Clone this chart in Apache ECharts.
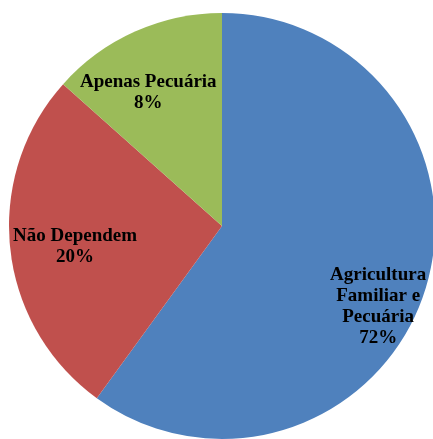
<!DOCTYPE html>
<html>
<head>
<meta charset="utf-8">
<script src="https://cdn.jsdelivr.net/npm/echarts@6/dist/echarts.min.js"></script>
<style>
  html, body { margin: 0; padding: 0; background: #fff; }
  #main { width: 433px; height: 439px; }
</style>
</head>
<body>
<div id="main"></div>
<script>
// slices as drawn in the picture (clockwise from 12 o'clock)
var categories = ["Agricultura\nFamiliar e\nPecuária", "Não Dependem", "Apenas Pecuária"];
var sliceValues = [60, 26.6, 13.4];
// percentages printed on the labels
var labelPercents = ["72%", "20%", "8%"];
var sliceColors = ["#4F81BD", "#C0504D", "#9BBB59"];
var labelOffsets = [[52, 47], [-38, 9], [-29, -33]];

var chartMain = echarts.init(document.getElementById("main"));

var pieData = categories.map(function (name, i) {
  return {
    name: name,
    value: sliceValues[i],
    itemStyle: { color: sliceColors[i] },
    label: { offset: labelOffsets[i] },
  };
});

var option = {
  animation: false,
  series: [
    {
      type: "pie",
      center: [222, 226],
      radius: [0, 213],
      startAngle: 90,
      clockwise: true,
      data: pieData,
      itemStyle: { borderWidth: 0 },
      label: {
        show: true,
        position: "inside",
        color: "#000",
        fontFamily: "Liberation Serif",
        fontWeight: "bold",
        fontSize: 19,
        lineHeight: 21,
        align: "center",
        formatter: function (params) {
          return params.name + "\n" + labelPercents[params.dataIndex];
        },
      },
      labelLine: { show: false },
      emphasis: { disabled: true },
    },
  ],
};

chartMain.setOption(option);
</script>
</body>
</html>
